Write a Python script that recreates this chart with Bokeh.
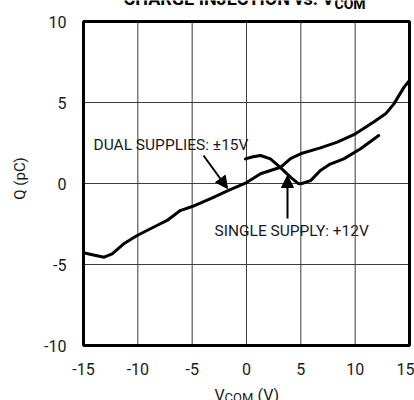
import math
from bokeh.plotting import figure
from bokeh.models import Label, Arrow, NormalHead, FixedTicker, Range1d
from bokeh.embed import file_html
from bokeh.resources import INLINE

# ---- data ----
dual_x = [-15, -14.3, -13.1, -12.36, -11.3, -10.06, -8.07, -7.3, -6.1, -5.0, -3.04, -1.66,
          -0.1, 1.29, 3.13, 4.05, 5.12, 6.8, 8.35, 10.03, 11.7, 12.8, 13.55, 14.5, 15]
dual_y = [-4.28, -4.38, -4.55, -4.34, -3.72, -3.21, -2.53, -2.28, -1.67, -1.42, -0.85, -0.43,
          0.02, 0.6, 1.0, 1.54, 1.87, 2.2, 2.55, 3.07, 3.79, 4.3, 4.9, 5.95, 6.36]

single_x = [-0.1, 0.6, 1.29, 2.2, 3.1, 4.05, 4.8, 5.1, 5.9, 6.8, 7.7, 8.95, 10.5, 12.17]
single_y = [1.52, 1.65, 1.73, 1.52, 1.0, 0.39, -0.02, 0.0, 0.18, 0.8, 1.2, 1.52, 2.14, 2.96]

x_ticks = [-15, -10, -5, 0, 5, 10, 15]
y_ticks = [-10, -5, 0, 5, 10]
x_tick_labels = {t: str(t) for t in x_ticks}
y_tick_labels = {t: str(t) for t in y_ticks}

X_LIM = (-15, 15)
Y_LIM = (-10, 10)

W, H = 414, 400
# plot-box placement on the page (pixels)
BOX_L, BOX_R, BOX_T, BOX_B = 83, 409, 21, 345
SX = (BOX_R - BOX_L) / (X_LIM[1] - X_LIM[0])
SY = (BOX_B - BOX_T) / (Y_LIM[1] - Y_LIM[0])


def dx(px):
    return X_LIM[0] + (px - BOX_L) / SX


def dy(py):
    return Y_LIM[1] - (py - BOX_T) / SY


FONT = "Roboto"
TXT = "#1a1a1a"
GRID = "#3c3c3c"

p = figure(width=W, height=H, x_range=Range1d(dx(0), dx(W)), y_range=Range1d(dy(H), dy(0)),
           output_backend="svg", toolbar_location=None,
           min_border_left=0, min_border_right=0, min_border_top=0, min_border_bottom=0)
p.outline_line_color = None
p.background_fill_color = "white"
p.border_fill_color = "white"
p.grid.visible = False

# axes placed at the edges of the plot box
p.xaxis.fixed_location = Y_LIM[0]
p.yaxis.fixed_location = X_LIM[0]
for ax in (p.xaxis, p.yaxis):
    ax.axis_line_color = None
    ax.major_tick_line_color = None
    ax.minor_tick_line_color = None
    ax.major_tick_out = 0
    ax.major_tick_in = 0
    ax.major_label_text_font = FONT
    ax.major_label_text_font_size = "16px"
    ax.major_label_text_color = TXT
    ax.major_label_standoff = 17
p.xaxis.ticker = FixedTicker(ticks=x_ticks)
p.yaxis.ticker = FixedTicker(ticks=y_ticks)
p.xaxis.major_label_overrides = x_tick_labels
p.yaxis.major_label_overrides = y_tick_labels

# grid lines limited to the plot box
inner_x = x_ticks[1:-1]
inner_y = y_ticks[1:-1]
p.segment(x0=inner_x, y0=[Y_LIM[0]] * len(inner_x), x1=inner_x, y1=[Y_LIM[1]] * len(inner_x),
          line_color=GRID, line_width=1)
p.segment(x0=[X_LIM[0]] * len(inner_y), y0=inner_y, x1=[X_LIM[1]] * len(inner_y), y1=inner_y,
          line_color=GRID, line_width=1)

# heavy plot frame
p.quad(left=[X_LIM[0]], right=[X_LIM[1]], bottom=[Y_LIM[0]], top=[Y_LIM[1]],
       fill_color=None, line_color="black", line_width=3)

p.line(dual_x, dual_y, line_color="black", line_width=3, line_join="round", line_cap="round")
p.line(single_x, single_y, line_color="black", line_width=3, line_join="round", line_cap="round")

# annotations (positions given as the visual centre of the capitals)
p.add_layout(Label(x=dx(93), y=dy(144.5), text="DUAL SUPPLIES: ±15V", text_font=FONT,
                   text_font_size="15.5px", text_color=TXT, text_baseline="middle"))
p.add_layout(Label(x=dx(214), y=dy(230), text="SINGLE SUPPLY: +12V", text_font=FONT,
                   text_font_size="15.5px", text_color=TXT, text_baseline="middle"))

head = dict(size=12, fill_color="black", line_color="black")
p.add_layout(Arrow(x_start=dx(203), y_start=dy(155), x_end=dx(227), y_end=dy(188),
                   line_color="black", line_width=2, end=NormalHead(**head)))
p.add_layout(Arrow(x_start=dx(287), y_start=dy(218), x_end=dx(287), y_end=dy(175),
                   line_color="black", line_width=2, end=NormalHead(**head)))

# axis titles
p.add_layout(Label(x=dx(19.5), y=dy(178), text="Q (pC)", angle=math.pi / 2, text_font=FONT,
                   text_font_size="15px", text_color=TXT, text_align="center",
                   text_baseline="middle"))
p.add_layout(Label(x=dx(214), y=dy(394.5), text="V", text_font=FONT, text_font_size="16px",
                   text_color=TXT, text_baseline="middle"))
p.add_layout(Label(x=dx(224), y=dy(397), text="COM", text_font=FONT, text_font_size="13px",
                   text_color=TXT, text_baseline="middle"))
p.add_layout(Label(x=dx(257), y=dy(394.5), text="(V)", text_font=FONT, text_font_size="16px",
                   text_color=TXT, text_baseline="middle"))

# chart title, clipped by the top of the page as in the reference
p.add_layout(Label(x=dx(123), y=dy(-2.5), text="CHARGE INJECTION vs. V", text_font=FONT,
                   text_font_size="18px", text_font_style="bold", text_color="black",
                   text_baseline="middle"))
p.add_layout(Label(x=dx(334), y=dy(3), text="COM", text_font=FONT,
                   text_font_size="14px", text_font_style="bold", text_color="black",
                   text_baseline="middle"))

open("out.html", "w").write(file_html(p, INLINE))
